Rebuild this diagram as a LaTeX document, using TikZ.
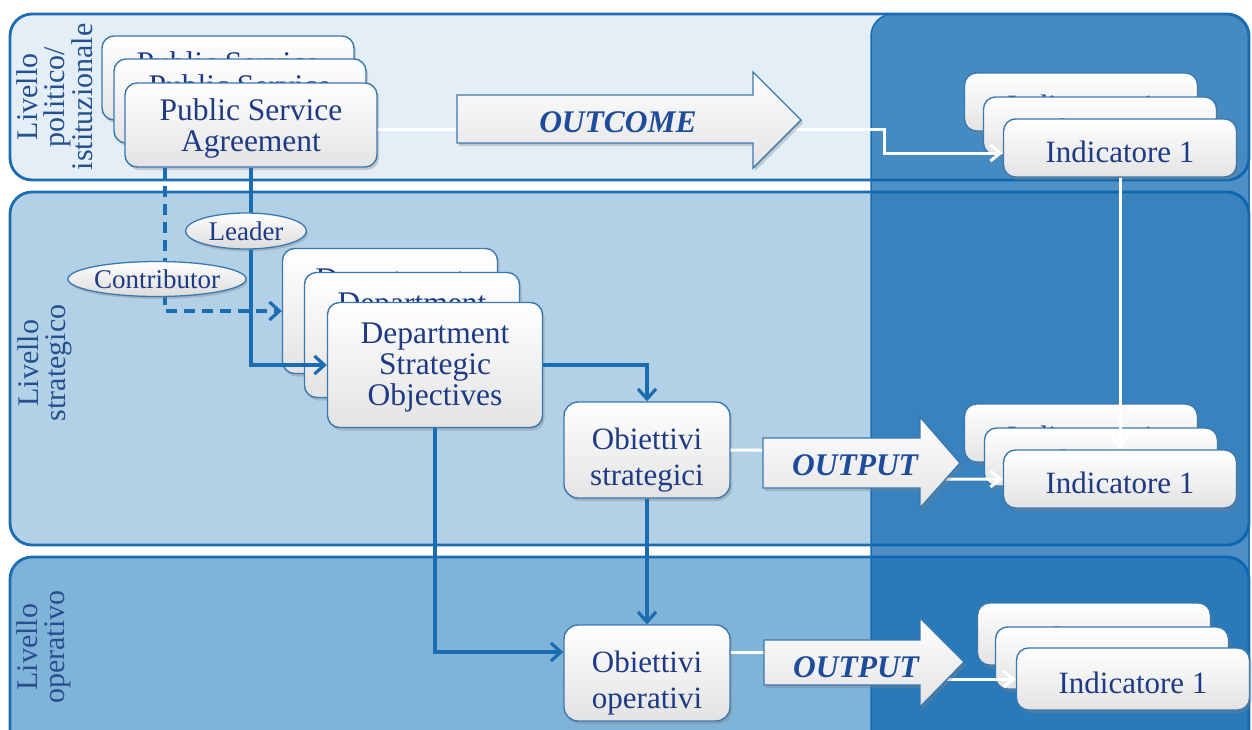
\documentclass[tikz,border=0pt]{standalone}
\usepackage{fontspec}
\setmainfont{Liberation Serif}
\usetikzlibrary{arrows.meta,shapes.geometric,shadows,calc}
\definecolor{bandA}{HTML}{E3EEF7}
\definecolor{bandB}{HTML}{B2D1E7}
\definecolor{bandC}{HTML}{80B3D8}
\definecolor{bordc}{HTML}{1B6CB1}
\definecolor{ovc}{HTML}{0A64AE}
\definecolor{txtc}{HTML}{1F3A85}
\definecolor{labc}{HTML}{24508F}
\definecolor{boxb}{HTML}{3A78B0}
\definecolor{arrtc}{HTML}{1E4C9A}
\newcommand\lowtext[2]{\raisebox{-#1}[\height][\depth]{\begin{tabular}{@{}c@{}}#2\end{tabular}}}
\pgfdeclarelayer{background}
\pgfdeclarelayer{foreground}
\pgfsetlayers{background,main,foreground}
\tikzset{
  band/.style={draw=bordc, line width=2.8pt, rounded corners=22pt},
  card/.style={rectangle, rounded corners=12pt, draw=boxb, line width=1.4pt,
    top color=white, bottom color=black!11,
    drop shadow={shadow xshift=2pt, shadow yshift=-3pt, opacity=0.35},
    text=txtc, font=\fontsize{31.5}{31}\selectfont, inner sep=0pt},
  psabox/.style={card, minimum width=252pt, minimum height=84pt},
  deptbox/.style={card, minimum width=215pt, minimum height=125pt},
  objbox/.style={card, minimum width=166pt, minimum height=96pt, rounded corners=14pt,
    font=\fontsize{31}{36}\selectfont},
  indbox/.style={card, minimum width=233pt, minimum height=58pt, font=\fontsize{31}{31}\selectfont},
  ell/.style={ellipse, draw=boxb, line width=1.3pt, top color=white, bottom color=black!14,
    drop shadow={shadow xshift=1.5pt, shadow yshift=-2.5pt, opacity=0.35},
    text=txtc, font=\fontsize{27}{28}\selectfont, inner sep=0pt},
  lab/.style={rotate=90, align=center, text=labc, font=\fontsize{30}{27}\selectfont, inner sep=0pt},
  conn/.style={draw=bordc, line width=3.2pt, -{Straight Barb[length=10pt,width=18pt]}},
  dconn/.style={conn, dash pattern=on 11pt off 7pt},
  wline/.style={draw=white, line width=3pt, -{Straight Barb[length=10pt,width=16pt]}},
  barrow/.style={draw=boxb, line width=1.4pt, top color=white, bottom color=black!11,
    drop shadow={shadow xshift=2pt, shadow yshift=-3pt, opacity=0.35}},
  arrtxt/.style={text=arrtc, font=\fontsize{31.5}{31}\selectfont\bfseries\itshape, inner sep=0pt}
}
\begin{document}
\begin{tikzpicture}[x=1pt,y=-1pt]
\useasboundingbox (0,0) rectangle (1252,729);

% bands and right overlay
\begin{pgfonlayer}{background}
  \path[band, fill=bandA] (10,14) rectangle (1249,180);
  \path[band, fill=bandB] (10,192) rectangle (1249,545);
  \path[band, fill=bandC] (10,557) rectangle (1249,770);
  \path[fill=ovc, fill opacity=0.72, draw=bordc, line width=1.5pt, rounded corners=22pt]
    (871,14) rectangle (1249,770);
\end{pgfonlayer}

% band labels
\node[lab] (l1) at (55,97) {Livello\\politico/\\istituzionale};
\node[lab] (l2) at (45,363) {Livello\\strategico};
\node[lab] (l3) at (44,647) {Livello\\operativo};

% Public Service Agreement stack
\node[psabox] (psa3) at (228,78) {\lowtext{5pt}{Public Service\\Agreement}};
\node[psabox] (psa2) at (240,101) {\lowtext{5pt}{Public Service\\Agreement}};
\node[psabox] (psa) at (251,125) {\lowtext{5pt}{Public Service\\Agreement}};

% Department stack
\node[deptbox] (ds3) at (390,311) {\lowtext{3pt}{Department\\Strategic\\Objectives}};
\node[deptbox] (ds2) at (412,335) {\lowtext{3pt}{Department\\Strategic\\Objectives}};
\node[deptbox] (ds) at (435,365) {\lowtext{3pt}{Department\\Strategic\\Objectives}};

% objectives
\node[objbox] (obs) at (647,450) {\lowtext{10pt}{Obiettivi\\strategici}};
\node[objbox] (oop) at (647,673) {\lowtext{10pt}{Obiettivi\\operativi}};

% indicator stacks
\node[indbox] (it3) at (1081,102) {\lowtext{8pt}{Indicatore 1}};
\node[indbox] (it2) at (1100,126) {\lowtext{8pt}{Indicatore 1}};
\node[indbox] (it) at (1120,148) {\lowtext{8pt}{Indicatore 1}};
\node[indbox] (im3) at (1081,433) {\lowtext{8pt}{Indicatore 1}};
\node[indbox] (im2) at (1101,457) {\lowtext{8pt}{Indicatore 1}};
\node[indbox] (im) at (1120,479) {\lowtext{8pt}{Indicatore 1}};
\node[indbox, minimum height=62pt] (ib3) at (1094,634) {\lowtext{8pt}{Indicatore 1}};
\node[indbox, minimum height=62pt] (ib2) at (1112,658) {\lowtext{8pt}{Indicatore 1}};
\node[indbox, minimum height=62pt] (ib) at (1133,679) {\lowtext{8pt}{Indicatore 1}};

% white connectors
\coordinate (bend1) at (884,129);
\coordinate (bend2) at (850,451);
\coordinate (bend3) at (850,652);
\draw[wline] ($(psa.east)+(0,4)$) -- (bend1) |- ($(it.west)+(0,5)$);
\draw[wline] (it.south) -- (im.north);
\draw[wline] (obs.east) -- (bend2) |- (im.west);
\draw[wline] ($(oop.east)+(0,-21)$) -- (bend3) |- (ib.west);

% blue connectors
\draw[conn] (psa.south) |- (ds.west);
\draw[dconn] ($(psa.south)+(-86,0)$) |- (ds3.west);
\draw[conn] (ds.east) -| (obs.north);
\draw[conn] (obs.south) -- (oop.north);
\draw[conn] (ds.south) |- ($(oop.west)+(0,-21)$);

\begin{pgfonlayer}{foreground}
  % block arrows
  \path[barrow] (457,95) -- (753,95) -- (753,72) -- (801,120) -- (753,168) -- (753,143) -- (457,143) -- cycle;
  \node[arrtxt] (outc) at (618,122) {OUTCOME};
  \path[barrow] (763,438) -- (920,438) -- (920,417) -- (960,463) -- (920,508) -- (920,488) -- (763,488) -- cycle;
  \node[arrtxt] (out1) at (855,465) {OUTPUT};
  \path[barrow] (764,640) -- (920,640) -- (920,618) -- (964,662) -- (920,707) -- (920,685) -- (764,685) -- cycle;
  \node[arrtxt] (out2) at (856,667) {OUTPUT};
  % role labels
  \node[ell, minimum width=121pt, minimum height=36pt] (lead) at (246,231) {Leader};
  \node[ell, minimum width=158pt, minimum height=35pt] (contr) at (157,279) {Contributor};
\end{pgfonlayer}
\end{tikzpicture}
\end{document}
